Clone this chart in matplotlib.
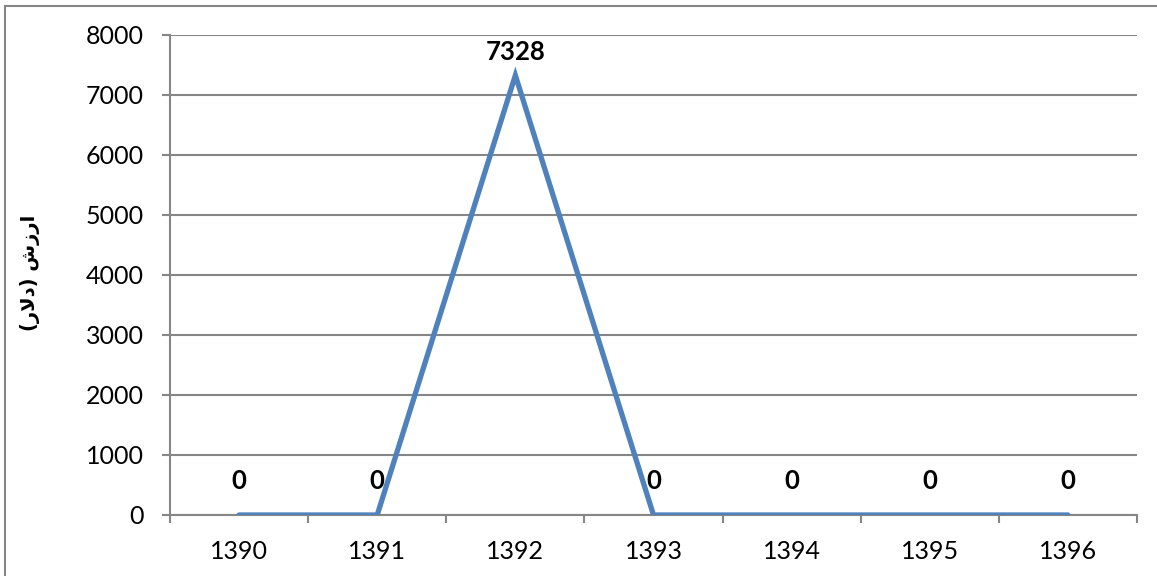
import matplotlib

matplotlib.use("Agg")
import matplotlib.pyplot as plt
from matplotlib.lines import Line2D
from matplotlib.ticker import FixedLocator

# yearly values (solar Hijri years)
years = ["1390", "1391", "1392", "1393", "1394", "1395", "1396"]
values = [0, 0, 7328, 0, 0, 0, 0]
y_ticks = [0, 1000, 2000, 3000, 4000, 5000, 6000, 7000, 8000]

# "ارزش (دلار)" pre-shaped in visual order, since matplotlib has no Arabic shaping
y_label = "(\uFEAD\uFEFB\uFEA9) \uFEB5\uFEAF\uFEAD\uFE8D"

LINE = "#4F81BD"
GRID = "#868686"
FONT = ["Lato", "DejaVu Sans"]

plt.rcParams["font.family"] = FONT

fig = plt.figure(figsize=(11.57, 5.76), dpi=100)
ax = fig.add_axes([170 / 1157, 61 / 576, 967 / 1157, 480 / 576])

x = list(range(len(years)))
ax.plot(x, values, color=LINE, lw=3.8, solid_capstyle="round", solid_joinstyle="miter", zorder=3)

for xi, v in zip(x, values):
    off = 22 if v == 0 else 11
    ax.annotate(f"{v}", (xi, v), xytext=(0, off * 0.72), textcoords="offset points",
                ha="center", va="bottom", fontsize=18.5, fontweight="bold", color="black")

ax.set_xlim(-0.5, len(years) - 0.5)
ax.set_ylim(0, 8000)
ax.set_xticks(x)
ax.set_xticklabels(years)
ax.xaxis.set_minor_locator(FixedLocator([i - 0.5 for i in range(len(years) + 1)]))
ax.set_yticks(y_ticks)

ax.tick_params(axis="x", which="major", length=0, pad=18, labelsize=18)
ax.tick_params(axis="x", which="minor", length=6, width=1.5, color=GRID, direction="out")
ax.tick_params(axis="y", length=6, width=1.5, color=GRID, pad=13, labelsize=18)

ax.grid(True, axis="y", color=GRID, lw=1.5, zorder=0)
ax.set_axisbelow(True)
for side in ("top", "right"):
    ax.spines[side].set_visible(False)
for side in ("left", "bottom"):
    ax.spines[side].set_color(GRID)
    ax.spines[side].set_linewidth(1.5)

fig.text(30 / 1157, 1 - 273 / 576, y_label, rotation=90, ha="center", va="center",
         fontsize=14, fontweight="bold", family=["DejaVu Sans"])

# chart frame on the left and top
bx, by = 5.5 / 1157, 1 - 5.5 / 576
fig.add_artist(Line2D([bx, bx], [0, by], transform=fig.transFigure, color=GRID, lw=1.5))
fig.add_artist(Line2D([bx, 1], [by, by], transform=fig.transFigure, color=GRID, lw=1.5))

fig.savefig("out.png", dpi=100)
